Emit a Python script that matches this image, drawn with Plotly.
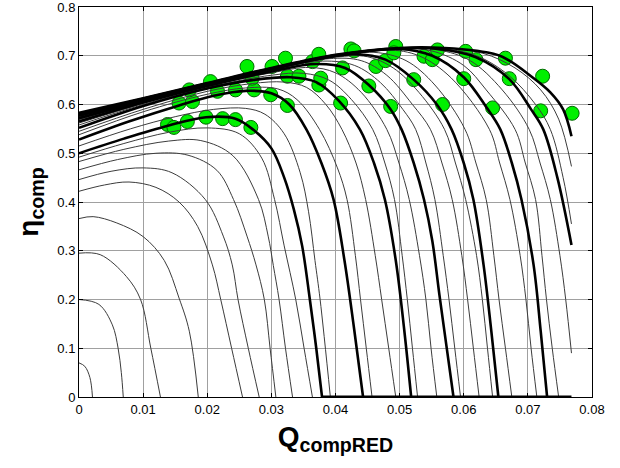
import plotly.graph_objects as go

Q_END = 0.0768  # right end of the truncated speed lines

# ---------------- thick (measured-speed) lines ----------------
t1_q = [0, 0.007, 0.014, 0.0198, 0.0244, 0.0272, 0.0300, 0.0320, 0.0335, 0.0348, 0.0360, 0.0370, 0.0379]
t1_eta = [0.500, 0.530, 0.557, 0.574, 0.571, 0.548, 0.51, 0.45, 0.385, 0.31, 0.20, 0.10, 0.0]
t2_q = [0, 0.008, 0.0156, 0.021, 0.026, 0.030, 0.0328, 0.0355, 0.0378, 0.0397, 0.0414, 0.0429, 0.0443]
t2_eta = [0.528, 0.566, 0.598, 0.618, 0.628, 0.623, 0.600, 0.548, 0.48, 0.405, 0.28, 0.14, 0.0]
t3_q = [0, 0.01, 0.02, 0.027, 0.033, 0.037, 0.0405, 0.0438, 0.046, 0.0477, 0.0494, 0.0507, 0.0518]
t3_eta = [0.552, 0.597, 0.633, 0.650, 0.656, 0.646, 0.608, 0.549, 0.48, 0.405, 0.28, 0.14, 0.0]
t4_q = [0, 0.01, 0.02, 0.03, 0.037, 0.0415, 0.0452, 0.0486, 0.0503, 0.0522, 0.0538, 0.0551, 0.0562, 0.0573, 0.0584]
t4_eta = [0.565, 0.604, 0.638, 0.668, 0.683, 0.675, 0.640, 0.59, 0.549, 0.48, 0.405, 0.32, 0.21, 0.105, 0.0]
t5_q = [0, 0.01, 0.02, 0.03, 0.038, 0.043, 0.0478, 0.0522, 0.0558, 0.0581, 0.06, 0.0615, 0.0631, 0.0643, 0.0654]
t5_eta = [0.572, 0.607, 0.641, 0.672, 0.695, 0.703, 0.692, 0.651, 0.60, 0.549, 0.48, 0.405, 0.27, 0.135, 0.0]
t6_q = [0, 0.01, 0.02, 0.03, 0.04, 0.05, 0.0551, 0.06, 0.0635, 0.0657, 0.0675, 0.069, 0.0709, 0.072, 0.073]
t6_eta = [0.577, 0.61, 0.642, 0.673, 0.70, 0.714, 0.70, 0.656, 0.595, 0.549, 0.48, 0.405, 0.27, 0.135, 0.0]
t7_q = [0, 0.01, 0.02, 0.03, 0.04, 0.05, 0.056, 0.0619, 0.0671, 0.0705, 0.0724, 0.0746, 0.0768]
t7_eta = [0.58, 0.612, 0.643, 0.674, 0.701, 0.715, 0.714, 0.697, 0.652, 0.59, 0.549, 0.45, 0.312]
t8_q = [0, 0.01, 0.02, 0.03, 0.04, 0.05, 0.057, 0.062, 0.066, 0.0708, 0.0735, 0.0755, 0.0768]
t8_eta = [0.583, 0.613, 0.644, 0.675, 0.702, 0.716, 0.716, 0.710, 0.698, 0.655, 0.625, 0.59, 0.535]

# ---------------- thin (model-speed) lines ----------------
s01_q = [0, 0.0009, 0.0017, 0.0021]
s01_eta = [0.07, 0.063, 0.04, 0.0]
s02_q = [0, 0.0031, 0.0052, 0.0061, 0.0066, 0.0069]
s02_eta = [0.20, 0.19, 0.148, 0.10, 0.05, 0.0]
s03_q = [0, 0.0033, 0.0074, 0.0096, 0.0112, 0.0127]
s03_eta = [0.295, 0.292, 0.247, 0.20, 0.10, 0.0]
s04_q = [0, 0.0022, 0.0059, 0.010, 0.0133, 0.0156, 0.0172, 0.0186]
s04_eta = [0.366, 0.37, 0.357, 0.329, 0.28, 0.203, 0.135, 0.0]
s05_q = [0, 0.004, 0.0078, 0.012, 0.0156, 0.0185, 0.0208, 0.0221, 0.0238, 0.0255]
s05_eta = [0.422, 0.435, 0.441, 0.43, 0.40, 0.35, 0.271, 0.2, 0.1, 0.0]
s06_q = [0, 0.005, 0.010, 0.0145, 0.0197, 0.0225, 0.0239, 0.0248, 0.0264, 0.0281]
s06_eta = [0.446, 0.463, 0.470, 0.46, 0.405, 0.33, 0.271, 0.2, 0.1, 0.0]
s07_q = [0, 0.006, 0.012, 0.017, 0.0215, 0.0241, 0.0262, 0.0276, 0.0289, 0.0298, 0.0307]
s07_eta = [0.466, 0.487, 0.50, 0.496, 0.465, 0.405, 0.33, 0.271, 0.2, 0.1, 0.0]
s08_q = [0, 0.007, 0.014, 0.019, 0.024, 0.028, 0.0295, 0.0303, 0.0312, 0.0322, 0.0333]
s08_eta = [0.483, 0.508, 0.525, 0.526, 0.495, 0.405, 0.33, 0.27, 0.2, 0.1, 0.0]
s09_q = [0, 0.007, 0.014, 0.02, 0.025, 0.0285, 0.0305, 0.032, 0.0338, 0.0351, 0.0364]
s09_eta = [0.492, 0.52, 0.543, 0.552, 0.54, 0.49, 0.405, 0.31, 0.2, 0.1, 0.0]
s10_q = [0, 0.008, 0.015, 0.021, 0.026, 0.029, 0.032, 0.0345, 0.0358, 0.0368, 0.0376, 0.0392]
s10_eta = [0.515, 0.55, 0.575, 0.59, 0.592, 0.58, 0.54, 0.46, 0.38, 0.28, 0.2, 0.0]
s11_q = [0, 0.01, 0.02, 0.026, 0.031, 0.034, 0.0375, 0.0403, 0.0418, 0.0431, 0.0439, 0.0448, 0.0457]
s11_eta = [0.538, 0.585, 0.621, 0.634, 0.632, 0.61, 0.549, 0.47, 0.405, 0.29, 0.2, 0.1, 0.0]
s12_q = [0, 0.01, 0.02, 0.027, 0.032, 0.0355, 0.0385, 0.041, 0.0432, 0.0447, 0.0462, 0.0472, 0.0483, 0.0494]
s12_eta = [0.545, 0.59, 0.627, 0.643, 0.646, 0.635, 0.60, 0.549, 0.48, 0.405, 0.29, 0.2, 0.1, 0.0]
s13_q = [0, 0.01, 0.02, 0.03, 0.035, 0.039, 0.0425, 0.0458, 0.0477, 0.0492, 0.0504, 0.0512, 0.052, 0.0528]
s13_eta = [0.558, 0.6, 0.635, 0.66, 0.664, 0.65, 0.61, 0.549, 0.48, 0.405, 0.29, 0.2, 0.1, 0.0]
s14_q = [0, 0.01, 0.02, 0.03, 0.036, 0.04, 0.044, 0.048, 0.0499, 0.0515, 0.0531, 0.0541, 0.0549, 0.0558]
s14_eta = [0.562, 0.602, 0.637, 0.665, 0.676, 0.665, 0.625, 0.549, 0.48, 0.405, 0.29, 0.2, 0.1, 0.0]
s15_q = [0, 0.01, 0.02, 0.03, 0.038, 0.043, 0.047, 0.0505, 0.0525, 0.0541, 0.0555, 0.0568, 0.0577, 0.0586, 0.0595]
s15_eta = [0.567, 0.605, 0.639, 0.67, 0.689, 0.68, 0.645, 0.59, 0.549, 0.48, 0.405, 0.29, 0.2, 0.1, 0.0]
s16_q = [0, 0.01, 0.02, 0.03, 0.039, 0.044, 0.048, 0.052, 0.0548, 0.0566, 0.0582, 0.0597, 0.0606, 0.0615, 0.0624]
s16_eta = [0.569, 0.606, 0.64, 0.671, 0.694, 0.69, 0.66, 0.6, 0.549, 0.48, 0.405, 0.29, 0.2, 0.1, 0.0]
s17_q = [0, 0.01, 0.02, 0.03, 0.04, 0.045, 0.049, 0.053, 0.057, 0.0587, 0.0603, 0.062, 0.0629, 0.0637, 0.0645]
s17_eta = [0.571, 0.607, 0.641, 0.672, 0.697, 0.698, 0.675, 0.625, 0.549, 0.48, 0.405, 0.29, 0.2, 0.1, 0.0]
s18_q = [0, 0.01, 0.02, 0.03, 0.04, 0.046, 0.051, 0.0555, 0.0602, 0.0619, 0.0635, 0.0647, 0.0655, 0.0665, 0.0675]
s18_eta = [0.574, 0.608, 0.641, 0.672, 0.698, 0.707, 0.69, 0.64, 0.549, 0.48, 0.405, 0.29, 0.2, 0.1, 0.0]
s19_q = [0, 0.01, 0.02, 0.03, 0.04, 0.048, 0.053, 0.058, 0.064, 0.0656, 0.0672, 0.0688, 0.0697, 0.0705, 0.0714]
s19_eta = [0.5755, 0.609, 0.642, 0.673, 0.699, 0.712, 0.70, 0.655, 0.549, 0.48, 0.405, 0.29, 0.2, 0.1, 0.0]
s20_q = [0, 0.01, 0.02, 0.03, 0.04, 0.05, 0.055, 0.06, 0.0635, 0.068, 0.0696, 0.0712, 0.0722, 0.0729, 0.0738, 0.0748]
s20_eta = [0.578, 0.61, 0.642, 0.673, 0.70, 0.714, 0.71, 0.68, 0.63, 0.549, 0.48, 0.405, 0.29, 0.2, 0.1, 0.0]
s21_q = [0, 0.01, 0.02, 0.03, 0.04, 0.05, 0.056, 0.061, 0.066, 0.0702, 0.0719, 0.0735, 0.075, 0.0759, 0.0768]
s21_eta = [0.579, 0.611, 0.643, 0.674, 0.70, 0.715, 0.712, 0.69, 0.63, 0.549, 0.48, 0.405, 0.29, 0.2, 0.09]
s22_q = [0, 0.01, 0.02, 0.03, 0.04, 0.05, 0.057, 0.062, 0.067, 0.0712, 0.0735, 0.0755, 0.0768]
s22_eta = [0.581, 0.612, 0.643, 0.674, 0.701, 0.715, 0.714, 0.70, 0.66, 0.6, 0.549, 0.45, 0.355]
s23_q = [0, 0.01, 0.02, 0.03, 0.04, 0.05, 0.057, 0.063, 0.068, 0.072, 0.0748, 0.0768]
s23_eta = [0.582, 0.613, 0.644, 0.675, 0.702, 0.716, 0.716, 0.705, 0.675, 0.63, 0.57, 0.473]

# ---------------- measured points ----------------
meas_q = [0.0138, 0.0148, 0.0169, 0.0198, 0.0224, 0.0244, 0.0268,
          0.0156, 0.0177, 0.0172, 0.0205, 0.0216, 0.0244, 0.0273,
          0.0262, 0.0270, 0.0299, 0.0301, 0.0325, 0.0322, 0.0325,
          0.0343, 0.0364, 0.0374, 0.0374, 0.0377, 0.0408, 0.0411,
          0.0424, 0.0429, 0.0452, 0.0463, 0.0478, 0.0486, 0.0494,
          0.0491, 0.0522, 0.0538, 0.0551, 0.0559, 0.0567, 0.0600,
          0.0603, 0.0619, 0.0645, 0.0665, 0.0671, 0.0720, 0.0723, 0.0769]
meas_eta = [0.559, 0.553, 0.565, 0.574, 0.571, 0.569, 0.553,
            0.603, 0.606, 0.630, 0.647, 0.627, 0.630, 0.630,
            0.678, 0.654, 0.620, 0.678, 0.598, 0.695, 0.658,
            0.658, 0.688, 0.703, 0.640, 0.654, 0.603, 0.675,
            0.714, 0.710, 0.638, 0.678, 0.690, 0.596, 0.719,
            0.706, 0.651, 0.699, 0.692, 0.712, 0.600, 0.653,
            0.709, 0.692, 0.593, 0.695, 0.653, 0.587, 0.658, 0.582]

x_ticks = [0, 0.01, 0.02, 0.03, 0.04, 0.05, 0.06, 0.07, 0.08]
y_ticks = [0, 0.1, 0.2, 0.3, 0.4, 0.5, 0.6, 0.7, 0.8]

thin_lines = [(s01_q, s01_eta), (s02_q, s02_eta), (s03_q, s03_eta), (s04_q, s04_eta),
              (s05_q, s05_eta), (s06_q, s06_eta), (s07_q, s07_eta), (s08_q, s08_eta),
              (s09_q, s09_eta), (s10_q, s10_eta), (s11_q, s11_eta), (s12_q, s12_eta),
              (s13_q, s13_eta), (s14_q, s14_eta), (s15_q, s15_eta), (s16_q, s16_eta),
              (s17_q, s17_eta), (s18_q, s18_eta), (s19_q, s19_eta), (s20_q, s20_eta),
              (s21_q, s21_eta), (s22_q, s22_eta), (s23_q, s23_eta)]
thick_lines = [(t1_q, t1_eta), (t2_q, t2_eta), (t3_q, t3_eta), (t4_q, t4_eta),
               (t5_q, t5_eta), (t6_q, t6_eta), (t7_q, t7_eta), (t8_q, t8_eta)]

FONT = "Liberation Sans, Arial, sans-serif"

fig = go.Figure()

fig.add_trace(go.Scatter(x=meas_q, y=meas_eta, mode="markers",
                         marker=dict(size=14, color="#00f000",
                                     line=dict(color="#006a00", width=1)),
                         hoverinfo="skip"))

for q, e in thin_lines:
    fig.add_trace(go.Scatter(x=q, y=e, mode="lines",
                             line=dict(color="#3c3c3c", width=1, shape="spline", smoothing=1.0),
                             hoverinfo="skip"))

for q, e in thick_lines:
    fig.add_trace(go.Scatter(x=q, y=e, mode="lines",
                             line=dict(color="black", width=2.6, shape="spline", smoothing=1.0),
                             hoverinfo="skip"))

# choked speed lines run along eta = 0 up to the end of the map
fig.add_trace(go.Scatter(x=[t1_q[-1], Q_END], y=[t1_eta[-1], t1_eta[-1]], mode="lines",
                         line=dict(color="black", width=3), hoverinfo="skip"))

axis_common = dict(showgrid=True, gridcolor="#a0a0a0", gridwidth=1, zeroline=False,
                   showline=True, linecolor="black", linewidth=1, mirror="ticks",
                   ticks="inside", ticklen=4, tickcolor="black", automargin=False,
                   ticklabeloverflow="allow",
                   tickfont=dict(family=FONT, size=13, color="black"))

fig.update_layout(
    width=620, height=468,
    margin=dict(l=79, r=28, t=7, b=71),
    paper_bgcolor="white", plot_bgcolor="white",
    showlegend=False,
    hovermode=False,
    font=dict(family=FONT, color="black"),
    xaxis=dict(range=[0, 0.08], tickvals=x_ticks, ticktext=[f"{v:g}" for v in x_ticks],
               title=dict(text="<b>Q<sub>compRED</sub></b>",
                          font=dict(size=28, family=FONT), standoff=10),
               **axis_common),
    yaxis=dict(range=[0, 0.8], tickvals=y_ticks, ticktext=[f"{v:g}" for v in y_ticks],
               title=dict(text="<b>η<sub>comp</sub></b>",
                          font=dict(size=28, family=FONT), standoff=10),
               **axis_common),
)

fig.write_html("out.html",
               config={"displayModeBar": False, "staticPlot": True},
               post_script="document.body.style.margin='0';document.body.style.overflow='hidden';")
